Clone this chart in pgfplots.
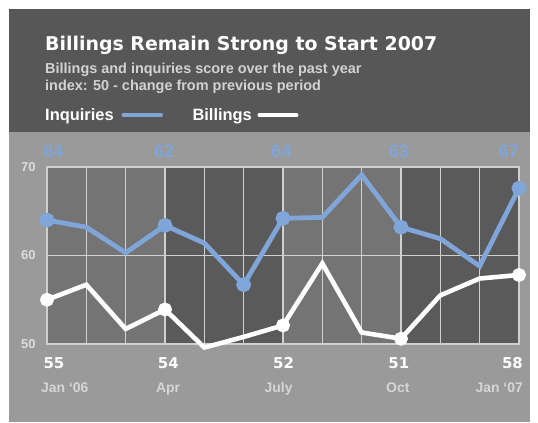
\documentclass[border=0pt]{standalone}
\usepackage{pgfplots}
\pgfplotsset{compat=1.18}
\usepackage{fontspec}
\setmainfont{Liberation Sans}
\newfontfamily\titlefont{DejaVu Sans}
\definecolor{hdr}{HTML}{575757}
\definecolor{panel}{HTML}{9A9A9A}
\definecolor{colA}{HTML}{747474}
\definecolor{colB}{HTML}{5A5A5A}
\definecolor{inq}{HTML}{7FA5D9}
\definecolor{gridc}{HTML}{D0D0D0}
\definecolor{sub}{HTML}{D2D2D2}
\definecolor{tickc}{HTML}{DCDCDC}
\definecolor{monc}{HTML}{D6D6D6}

\pgfplotstableread{
x inq bill
0 64.0 55.0
1 63.2 56.7
2 60.3 51.7
3 63.4 53.9
4 61.4 49.6
5 56.7 50.8
6 64.2 52.1
7 64.3 59.1
8 69.1 51.3
9 63.2 50.6
10 61.9 55.5
11 58.8 57.4
12 67.6 57.8
}\datatable

\begin{document}
\begin{tikzpicture}[x=1bp,y=1bp]
\node[anchor=base west, text=white, inner sep=0, font=\titlefont\bfseries\fontsize{19}{22}\selectfont] at (45,373) {Billings Remain Strong to Start 2007};
\node[anchor=base west, text=sub, inner sep=0, font=\bfseries\fontsize{14.5}{16}\selectfont] at (45,349.7) {Billings and inquiries score over the past year};
\node[anchor=base west, text=sub, inner sep=0, font=\bfseries\fontsize{14.5}{16}\selectfont] at (45,332.7) {index: 50 - change from previous period};
\node[anchor=base west, text=white, inner sep=0, font=\bfseries\fontsize{16.5}{18}\selectfont] at (45,303) {Inquiries};
\draw[inq, line width=4, line cap=round] (123.5,307.7) -- (161,307.7);
\node[anchor=base west, text=white, inner sep=0, font=\bfseries\fontsize{16.5}{18}\selectfont] at (192.3,303) {Billings};
\draw[white, line width=4, line cap=round] (259.5,307.7) -- (296.5,307.7);

\begin{axis}[
  at={(47bp,79bp)}, anchor=south west,
  scale only axis, width=472bp, height=177bp,
  xmin=0, xmax=12, ymin=50, ymax=70,
  clip=false, set layers,
  axis line style={gridc, line width=1.2bp},
  xtick={0,...,12}, xticklabels={},
  ytick={50,60,70},
  grid=major, major grid style={gridc, line width=1.2bp},
  major tick length=0pt,
  /pgf/number format/assume math mode=true,
  yticklabel style={text=tickc, font=\bfseries\fontsize{13}{13}\selectfont, xshift=-8bp},
]
\begin{pgfonlayer}{axis background}
\fill[white] ([xshift=-47bp,yshift=-79bp]axis cs:0,50) rectangle ([xshift=491bp,yshift=344bp]axis cs:0,50);
\fill[hdr] ([xshift=-38bp,yshift=211.7bp]axis cs:0,50) rectangle ([xshift=483bp,yshift=335bp]axis cs:0,50);
\fill[panel] ([xshift=-38bp,yshift=-78bp]axis cs:0,50) rectangle ([xshift=483bp,yshift=211.7bp]axis cs:0,50);
\fill[colA] (axis cs:0,50) rectangle (axis cs:3,70);
\fill[colB] (axis cs:3,50) rectangle (axis cs:6,70);
\fill[colA] (axis cs:6,50) rectangle (axis cs:9,70);
\fill[colB] (axis cs:9,50) rectangle (axis cs:12,70);
\end{pgfonlayer}

\addplot[inq, line width=4.8bp, mark=*, mark size=5bp, mark options={fill=inq, draw=none}, mark indices={1,4,6,7,10,13}] table[x=x, y=inq] {\datatable};
\addplot[white, line width=4.6bp, mark=*, mark size=4.6bp, mark options={fill=white, draw=none}, mark indices={1,4,7,10,13}] table[x=x, y=bill] {\datatable};

% top labels (blue)
\node[anchor=base west, text=inq, inner sep=0, font=\bfseries\fontsize{18}{18}\selectfont, xshift=-3.7bp] at (axis cs:0,71.1) {64};
\node[anchor=base, text=inq, inner sep=0, font=\bfseries\fontsize{18}{18}\selectfont] at (axis cs:2.975,71.1) {62};
\node[anchor=base, text=inq, inner sep=0, font=\bfseries\fontsize{18}{18}\selectfont] at (axis cs:5.96,71.1) {64};
\node[anchor=base, text=inq, inner sep=0, font=\bfseries\fontsize{18}{18}\selectfont] at (axis cs:8.945,71.1) {63};
\node[anchor=base east, text=inq, inner sep=0, font=\bfseries\fontsize{18}{18}\selectfont] at (axis cs:12,71.1) {67};

% bottom labels (white)
\node[anchor=base west, text=white, inner sep=0, font=\titlefont\bfseries\fontsize{15}{15}\selectfont, xshift=-3.7bp] at (axis cs:0,47.18) {55};
\node[anchor=base, text=white, inner sep=0, font=\titlefont\bfseries\fontsize{15}{15}\selectfont] at (axis cs:3.084,47.18) {54};
\node[anchor=base, text=white, inner sep=0, font=\titlefont\bfseries\fontsize{15}{15}\selectfont] at (axis cs:6.013,47.18) {52};
\node[anchor=base, text=white, inner sep=0, font=\titlefont\bfseries\fontsize{15}{15}\selectfont] at (axis cs:8.945,47.18) {51};
\node[anchor=base east, text=white, inner sep=0, font=\titlefont\bfseries\fontsize{15}{15}\selectfont, xshift=4bp] at (axis cs:12,47.18) {58};

% month labels
\node[anchor=base west, text=monc, inner sep=0, font=\bfseries\fontsize{14}{14}\selectfont, xshift=-6bp] at (axis cs:0,44.54) {Jan ‘06};
\node[anchor=base, text=monc, inner sep=0, font=\bfseries\fontsize{14}{14}\selectfont] at (axis cs:3.077,44.54) {Apr};
\node[anchor=base, text=monc, inner sep=0, font=\bfseries\fontsize{14}{14}\selectfont] at (axis cs:5.89,44.54) {July};
\node[anchor=base, text=monc, inner sep=0, font=\bfseries\fontsize{14}{14}\selectfont] at (axis cs:8.92,44.54) {Oct};
\node[anchor=base east, text=monc, inner sep=0, font=\bfseries\fontsize{14}{14}\selectfont, xshift=4bp] at (axis cs:12,44.54) {Jan ‘07};
\end{axis}
\end{tikzpicture}
\end{document}
